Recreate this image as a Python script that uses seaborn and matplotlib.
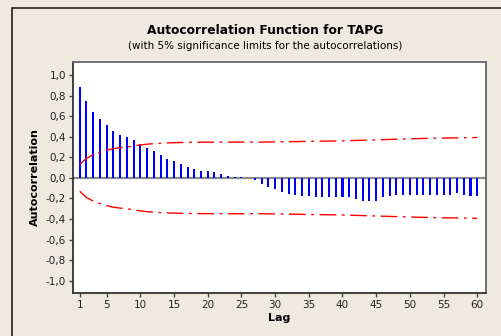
import numpy as np
import pandas as pd
import seaborn as sns
import matplotlib.pyplot as plt
from matplotlib.patches import Rectangle

# --- dados ---
lags = list(range(1, 61))
acf = [0.88, 0.75, 0.64, 0.57, 0.51, 0.46, 0.42, 0.40, 0.37, 0.33,
       0.29, 0.265, 0.225, 0.185, 0.16, 0.135, 0.11, 0.087, 0.068, 0.068,
       0.058, 0.036, 0.019, 0.01, 0.005, 0.0, -0.025, -0.058, -0.084, -0.11,
       -0.133, -0.155, -0.17, -0.18, -0.18, -0.19, -0.19, -0.19, -0.19, -0.19,
       -0.19, -0.204, -0.22, -0.225, -0.228, -0.19, -0.175, -0.17, -0.17, -0.17,
       -0.17, -0.17, -0.17, -0.17, -0.17, -0.165, -0.149, -0.165, -0.175, -0.176]
upper = [0.13, 0.19, 0.225, 0.25, 0.27, 0.285, 0.293, 0.30, 0.31, 0.32,
         0.328, 0.333, 0.337, 0.34, 0.342, 0.344, 0.345, 0.346, 0.347, 0.347,
         0.348, 0.348, 0.348, 0.348, 0.348, 0.348, 0.348, 0.348, 0.349, 0.35,
         0.351, 0.352, 0.353, 0.354, 0.355, 0.356, 0.357, 0.358, 0.359, 0.36,
         0.362, 0.364, 0.366, 0.368, 0.37, 0.372, 0.374, 0.376, 0.378, 0.38,
         0.382, 0.383, 0.385, 0.386, 0.387, 0.388, 0.389, 0.39, 0.391, 0.393]
lower = [-v for v in upper]

xticks = [1, 5, 10, 15, 20, 25, 30, 35, 40, 45, 50, 55, 60]
yticks = [-1.0, -0.8, -0.6, -0.4, -0.2, 0.0, 0.2, 0.4, 0.6, 0.8, 1.0]
ytick_labels = ['-1,0', '-0,8', '-0,6', '-0,4', '-0,2', '0,0',
                '0,2', '0,4', '0,6', '0,8', '1,0']

df = pd.DataFrame({'lag': lags, 'acf': acf, 'upper': upper, 'lower': lower})

bg = '#eeeae0'
fig = plt.figure(figsize=(5.01, 3.36), dpi=100, facecolor=bg)
ax = fig.add_axes([73 / 501, 43 / 336, 413 / 501, 231 / 336])
ax.set_facecolor('white')

# moldura externa
fig.patches.append(Rectangle((12 / 501, -0.1), 1.2, 0.1 + 328 / 336,
                             transform=fig.transFigure, fill=False,
                             edgecolor='#222222', linewidth=1.2))

ax.axhline(0, color='#8c8c8c', linewidth=1.6, zorder=1)

sns.barplot(data=df, x='lag', y='acf', native_scale=True, width=0.3,
            color='#0000ff', saturation=1, linewidth=0, ax=ax, zorder=2)

for col in ['upper', 'lower']:
    sns.lineplot(data=df, x='lag', y=col, color='#ff0000', linewidth=1.0,
                 ax=ax, zorder=3)
for line in ax.lines[1:]:
    line.set_dashes([12, 4, 2, 4])

ax.set_xlim(0, 61.3)
ax.set_ylim(-1.118, 1.126)
ax.set_xticks(xticks)
ax.set_xticklabels([str(t) for t in xticks])
ax.set_yticks(yticks)
ax.set_yticklabels(ytick_labels)
ax.tick_params(axis='both', direction='out', length=3, width=1,
               color='#444444', labelsize=7.5, labelcolor='#222222', pad=2)

for s in ax.spines.values():
    s.set_color('#666666')
    s.set_linewidth(1.3)
ax.spines['left'].set_color('#333333')
ax.spines['bottom'].set_color('#333333')

ax.set_xlabel('Lag', fontsize=8, fontweight='bold', labelpad=2)
ax.set_ylabel('Autocorrelation', fontsize=8, fontweight='bold', labelpad=4)

fig.text(265 / 501, 1 - 30 / 336, 'Autocorrelation Function for TAPG',
         ha='center', va='center', fontsize=8.8, fontweight='bold')
fig.text(265 / 501, 1 - 46 / 336,
         '(with 5% significance limits for the autocorrelations)',
         ha='center', va='center', fontsize=7.5)

fig.savefig('out.png', dpi=100, facecolor=bg)
